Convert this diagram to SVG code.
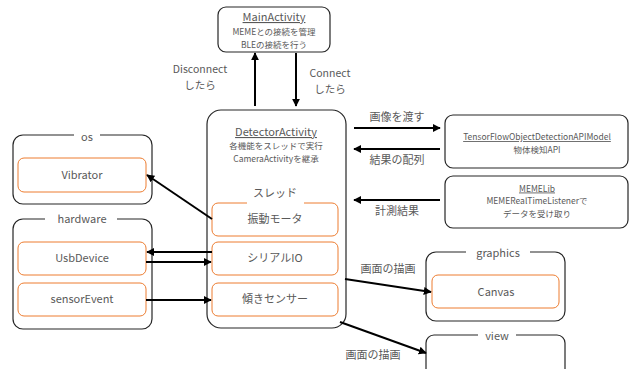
<svg xmlns="http://www.w3.org/2000/svg" width="629" height="369" viewBox="0 0 629 369">
<style>
text{font-family:"Noto Sans CJK JP","Noto Sans",sans-serif;fill:#595959;text-anchor:middle}
.t{font-size:11px}
.l{font-size:10.5px}
.s{font-size:8.5px}
.b{fill:#fff;stroke:#262626;stroke-width:1.2}
.o{fill:#fff;stroke:#ED7D31;stroke-width:1}
.gap{fill:#fff;stroke:none}
.c{stroke:#000;stroke-width:2;fill:none;marker-end:url(#ah)}
.u{text-decoration:underline}
</style>
<defs>
<marker id="ah" viewBox="0 0 10 10" refX="9" refY="5" markerWidth="4" markerHeight="4" orient="auto" markerUnits="strokeWidth">
<path d="M0,0 L10,5 L0,10 z" fill="#000"/>
</marker>
</defs>
<rect width="629" height="369" fill="#fff"/>

<g id="MainActivity">
<rect class="b" x="218" y="7" width="112" height="45" rx="8"/>
<text class="t u" x="274" y="21" fill="#404040">MainActivity</text>
<text class="s" x="274" y="35">MEMEとの接続を管理</text>
<text class="s" x="274" y="47.5">BLEの接続を行う</text>
</g>

<g id="DetectorActivity">
<rect class="b" x="207" y="110" width="139" height="218" rx="14"/>
<text class="t u" x="276" y="136">DetectorActivity</text>
<text class="s" x="276" y="149">各機能をスレッドで実行</text>
<text class="s" x="276" y="161.5">CameraActivityを継承</text>
</g>

<g id="thread-vibe">
<rect class="o" x="212" y="203" width="126" height="33" rx="6"/>
<rect class="gap" x="247" y="200" width="57" height="6"/>
<text class="t" x="275" y="197">スレッド</text>
<text class="t" x="275" y="223">振動モータ</text>
</g>
<g id="thread-serial">
<rect class="o" x="212" y="242" width="126" height="33" rx="6"/>
<text class="t" x="275" y="262">シリアルIO</text>
</g>
<g id="thread-tilt">
<rect class="o" x="212" y="283" width="126" height="33" rx="6"/>
<text class="t" x="275" y="303">傾きセンサー</text>
</g>

<g id="os">
<rect class="b" x="13" y="135" width="139" height="69" rx="10"/>
<rect class="gap" x="74" y="131" width="26" height="8"/>
<text class="t" x="87" y="141">os</text>
</g>
<g id="Vibrator">
<rect class="o" x="18" y="158" width="128" height="34" rx="6"/>
<text class="t" x="82" y="179">Vibrator</text>
</g>

<g id="hardware">
<rect class="b" x="13" y="219" width="139" height="110" rx="10"/>
<rect class="gap" x="45" y="215" width="72" height="8"/>
<text class="t" x="82" y="223">hardware</text>
</g>
<g id="UsbDevice">
<rect class="o" x="18" y="242" width="128" height="33" rx="6"/>
<text class="t" x="82" y="262">UsbDevice</text>
</g>
<g id="sensorEvent">
<rect class="o" x="18" y="283" width="128" height="33" rx="6"/>
<text class="t" x="82" y="303">sensorEvent</text>
</g>

<g id="TensorFlowModel">
<rect class="b" x="445" y="115" width="183" height="53" rx="8"/>
<text class="s u" x="537" y="140">TensorFlowObjectDetectionAPIModel</text>
<text class="s" x="537" y="152.5">物体検知API</text>
</g>

<g id="MEMELib">
<rect class="b" x="445" y="176" width="183" height="52" rx="8"/>
<text class="s u" x="537" y="191.5">MEMELib</text>
<text class="s" x="537" y="204">MEMERealTimeListenerで</text>
<text class="s" x="537" y="216.5">データを受け取り</text>
</g>

<g id="graphics">
<rect class="b" x="426" y="252" width="139" height="69" rx="10"/>
<rect class="gap" x="466" y="248" width="64" height="8"/>
<text class="t" x="498" y="257">graphics</text>
</g>
<g id="Canvas">
<rect class="o" x="432" y="275" width="127" height="33" rx="6"/>
<text class="t" x="496" y="296">Canvas</text>
</g>

<g id="view">
<rect class="b" x="426" y="335" width="139" height="60" rx="8"/>
<rect class="gap" x="478" y="331" width="38" height="8"/>
<text class="t" x="497" y="340">view</text>
</g>

<g id="connectors">
<line class="c" x1="255" y1="106" x2="255" y2="53"/>
<line class="c" x1="296" y1="53" x2="296" y2="106"/>
<line class="c" x1="354" y1="128" x2="440" y2="128"/>
<line class="c" x1="440" y1="149" x2="354" y2="149"/>
<line class="c" x1="440" y1="200" x2="354" y2="200"/>
<line class="c" x1="212" y1="219" x2="147" y2="175"/>
<line class="c" x1="212" y1="252" x2="147" y2="252"/>
<line class="c" x1="146" y1="262" x2="211" y2="262"/>
<line class="c" x1="146" y1="300" x2="211" y2="300"/>
<line class="c" x1="345" y1="279" x2="431" y2="292"/>
<line class="c" x1="340" y1="322" x2="426" y2="353"/>
<text class="l" x="200" y="73">Disconnect</text>
<text class="l" x="200" y="89">したら</text>
<text class="l" x="330" y="77">Connect</text>
<text class="l" x="330" y="93">したら</text>
<text class="t" x="397" y="121">画像を渡す</text>
<text class="t" x="397" y="164">結果の配列</text>
<text class="t" x="397" y="215">計測結果</text>
<text class="t" x="388" y="273">画面の描画</text>
<text class="t" x="373" y="359">画面の描画</text>
</g>
</svg>
